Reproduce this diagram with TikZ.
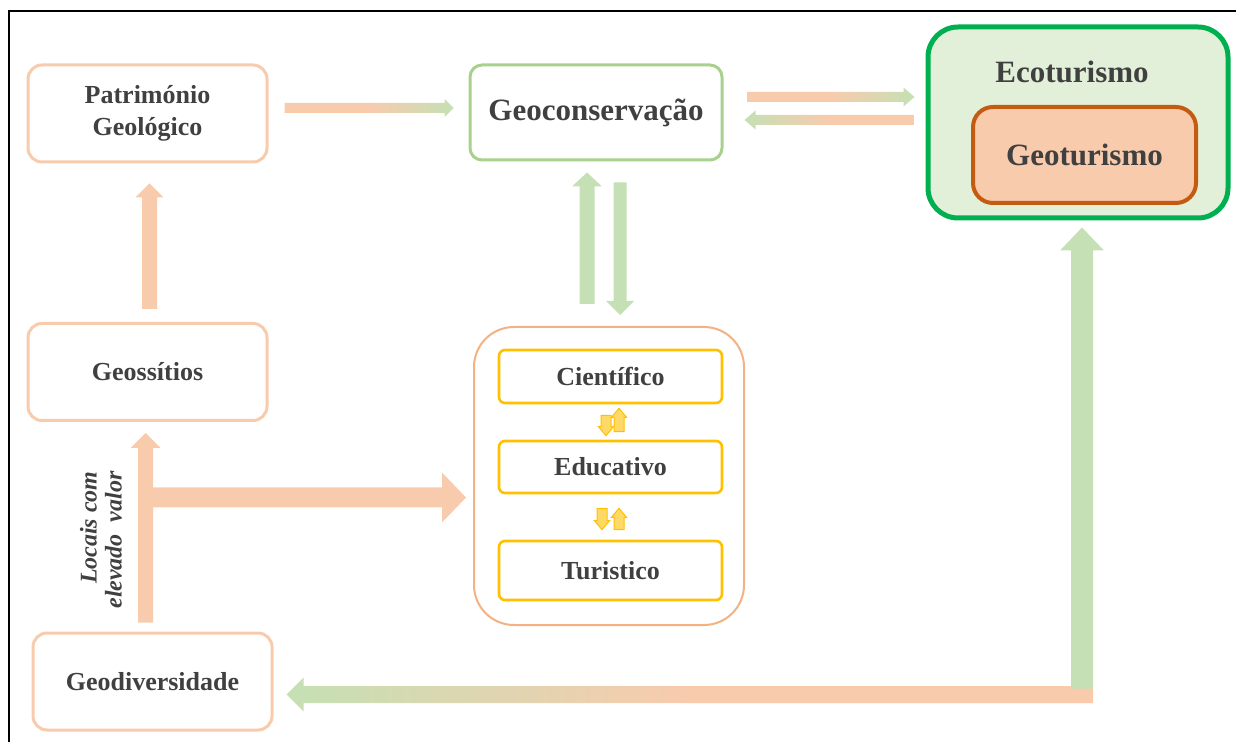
\documentclass[tikz,border=0pt]{standalone}
\usepackage{fontspec}
\setmainfont{Liberation Serif}
\usetikzlibrary{calc}

\definecolor{pch}{HTML}{F8CBAD}
\definecolor{pchline}{HTML}{F4B183}
\definecolor{grn}{HTML}{C5E0B4}
\definecolor{grnline}{HTML}{A9D18E}
\definecolor{ecogrn}{HTML}{00B050}
\definecolor{ecofill}{HTML}{E2F0D9}
\definecolor{geoorange}{HTML}{C55A11}
\definecolor{gold}{HTML}{FFC000}
\definecolor{goldfill}{HTML}{FFD966}
\definecolor{txt}{HTML}{404040}

% block arrows: style, from, to, body half width, head half width, head length
\newcommand{\hblock}[6]{%
\path[#1] let \p1=(#2), \p2=(#3), \p3=($(\x2,\y1)!#6!(\p1)$) in
 (\x1,\y1+#4) -- (\x3,\y1+#4) -- (\x3,\y1+#5) -- (\x2,\y1) -- (\x3,\y1-#5) -- (\x3,\y1-#4) -- (\x1,\y1-#4) -- cycle;}
\newcommand{\vblock}[6]{%
\path[#1] let \p1=(#2), \p2=(#3), \p3=($(\x1,\y2)!#6!(\p1)$) in
 (\x1+#4,\y1) -- (\x1+#4,\y3) -- (\x1+#5,\y3) -- (\x1,\y2) -- (\x1-#5,\y3) -- (\x1-#4,\y3) -- (\x1-#4,\y1) -- cycle;}

\begin{document}
\begin{tikzpicture}[x=0.5pt,y=-0.5pt,
 box/.style={draw=pch, line width=1.5pt, rounded corners=7pt, fill=white, text=txt, align=center,
   font=\bfseries\fontsize{13}{16}\selectfont, minimum width=119.5pt, minimum height=48.5pt, inner sep=0pt},
 valbox/.style={draw=gold, line width=1.3pt, rounded corners=3pt, fill=white, text=txt,
   font=\bfseries\fontsize{13}{15}\selectfont, minimum width=111.5pt, inner sep=0pt},
 bigfont/.style={font=\bfseries\fontsize{15.5}{18}\selectfont, text=txt},
 goldarrow/.style={fill=goldfill, draw=gold, line width=0.5pt}]

\useasboundingbox (0,0) rectangle (1236,742);
\draw[line width=0.7pt] (9,742) -- (9,11) -- (1236,11);

% boxes
\node[box] (pat) at (147.5,113.5) {Património\\Geológico};
\node[box] (geos) at (147.5,372) {Geossítios};
\node[box] (geodiv) at (152.5,681.5) {Geodiversidade};
\node[box, draw=grnline, rounded corners=6pt, minimum width=126pt, minimum height=47.5pt, bigfont] (geo) at (596,112.5) {Geoconservação};
\node[draw=ecogrn, fill=ecofill, line width=2.5pt, rounded corners=15pt, minimum width=150pt, minimum height=95.5pt] (eco) at (1078,122.5) {};
\node[bigfont] (ecolbl) at (1072,72) {Ecoturismo};
\node[draw=geoorange, fill=pch, line width=2pt, rounded corners=10pt, minimum width=111.5pt, minimum height=48pt, bigfont] (geotur) at (1084.5,155) {Geoturismo};
\node[draw=pchline, line width=1pt, rounded corners=20pt, minimum width=135pt, minimum height=149pt] (cont) at (609,476) {};
\node[valbox, minimum height=26.5pt] (cien) at (610.5,376.5) {Científico};
\node[valbox, minimum height=26pt] (edu) at (610.5,467) {Educativo};
\node[valbox, minimum height=29.5pt] (tur) at (610.5,570.5) {Turistico};
\node[rotate=90, align=right, text=txt, font=\bfseries\itshape\fontsize{12}{12.5}\selectfont] (locais) at (101,540) {Locais com\\elevado\ \ valor};

% arrows
\hblock{shade, left color=pch, right color=grn, middle color=pch}{$(pat.east)+(16,-5.5)$}{$(geo.west)+(-15,0)$}{2.5pt}{4.5pt}{4.5pt}
\hblock{shade, left color=pch, right color=grn, middle color=pch}{$(geo.east)+(24,-15.5)$}{$(eco.west)+(-11,0)$}{2.5pt}{4.75pt}{5.5pt}
\hblock{shade, left color=grn, right color=pch, middle color=pch}{$(eco.west)+(-12,-2.5)$}{$(geo.east)+(21,0)$}{2.5pt}{4.75pt}{5.5pt}
\vblock{fill=grn}{$(cont.north)+(-22,-22)$}{$(geo.south)+(-9,11)$}{3.75pt}{7.5pt}{7pt}
\vblock{fill=grn}{$(geo.south)+(24,21)$}{$(cont.north)+(11,-11)$}{3.25pt}{7pt}{7pt}
\vblock{fill=pch}{$(geos.north)+(2,-13)$}{$(pat.south)+(2,20)$}{3.75pt}{7pt}{7pt}
\vblock{fill=pch}{$(geodiv.north)+(-7,-9)$}{$(geos.south)+(-2,11)$}{3.75pt}{7.5pt}{7.5pt}
\coordinate (fork) at ($(geodiv.north)+(-7,-134)$);
\hblock{fill=pch}{fork}{$(cont.west)+(-7,0)$}{5pt}{12.5pt}{12pt}
\coordinate (corner) at ($(eco.south)+(15,474)$);
\hblock{shade, left color=grn, right color=pch, middle color=pch}{corner}{$(geodiv.east)+(13,0)$}{4.25pt}{8.5pt}{8.5pt}
\vblock{fill=grn}{$(eco.south)+(4,468)$}{$(eco.south)+(4,7)$}{5.5pt}{11pt}{11.5pt}

% small arrows
\vblock{goldarrow}{$(cien.south)+(-4.5,11)$}{$(edu.north)+(-4.5,-4)$}{2.5pt}{3.75pt}{4.5pt}
\vblock{goldarrow}{$(edu.north)+(8.5,-8)$}{$(cien.south)+(8.5,4)$}{2.5pt}{3.75pt}{4.5pt}
\vblock{goldarrow}{$(edu.south)+(-8.5,14)$}{$(tur.north)+(-8.5,-10)$}{2.5pt}{3.75pt}{4.5pt}
\vblock{goldarrow}{$(tur.north)+(8.5,-10)$}{$(edu.south)+(8.5,14)$}{2.5pt}{3.75pt}{4.5pt}
\end{tikzpicture}
\end{document}
